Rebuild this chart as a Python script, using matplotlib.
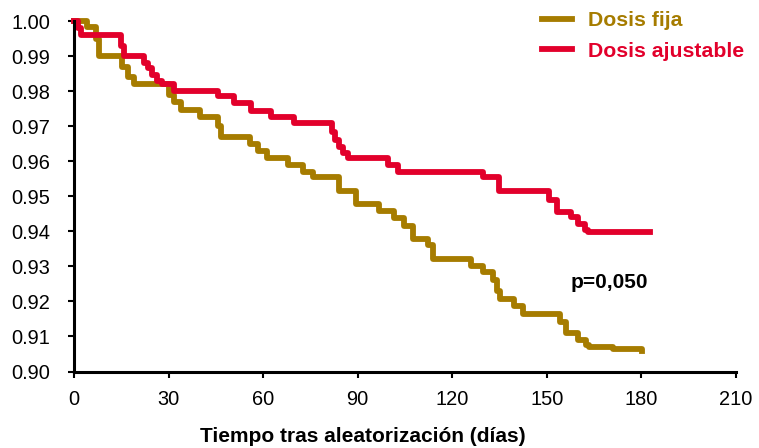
import matplotlib.pyplot as plt

# dias donde cambia la supervivencia (step post)
dias_fija = [0, 4.0, 7.0, 8.0, 15.3, 17.0, 19.0, 30.1, 31.6, 34.1, 40.1, 45.6,
             46.6, 55.9, 58.4, 61.3, 67.9, 72.7, 75.8, 84.1, 89.5, 96.8, 101.5,
             104.7, 107.6, 112.4, 113.9, 125.9, 129.8, 133.0, 134.3, 135.0,
             139.7, 142.5, 154.2, 156.2, 160.0, 162.5, 163.5, 171.1, 180.1]
surv_fija = [1.000, 0.9983, 0.995, 0.990, 0.987, 0.984, 0.982, 0.979, 0.977,
             0.9746, 0.9726, 0.970, 0.967, 0.965, 0.963, 0.961, 0.959, 0.957,
             0.9554, 0.9514, 0.9477, 0.9457, 0.9437, 0.9414, 0.9377, 0.936,
             0.932, 0.930, 0.9283, 0.926, 0.923, 0.9206, 0.9186, 0.9163, 0.914,
             0.911, 0.909, 0.9077, 0.907, 0.9063, 0.9058]

dias_ajust = [0, 1.3, 2.3, 14.9, 15.8, 22.3, 23.5, 24.8, 26.4, 28.0, 31.8, 45.6,
              50.7, 56.2, 62.5, 69.8, 81.9, 82.9, 84.1, 85.4, 87.0, 99.6, 102.8,
              129.8, 134.8, 150.7, 153.3, 157.7, 160.0, 162.2, 163.2, 182.8]
surv_ajust = [1.000, 0.998, 0.996, 0.993, 0.990, 0.988, 0.9866, 0.9846, 0.983,
              0.982, 0.980, 0.9786, 0.9766, 0.9743, 0.9726, 0.971, 0.9683,
              0.966, 0.964, 0.9623, 0.961, 0.959, 0.957, 0.9554, 0.9514, 0.949,
              0.9454, 0.944, 0.942, 0.9405, 0.9397, 0.9399]

xticks = [0, 30, 60, 90, 120, 150, 180, 210]
yticks = [0.90, 0.91, 0.92, 0.93, 0.94, 0.95, 0.96, 0.97, 0.98, 0.99, 1.00]

gold = '#A67C00'
red = '#E2002B'

plt.rcParams['font.family'] = ['Liberation Sans', 'DejaVu Sans']

W, H = 759, 448
fig = plt.figure(figsize=(W / 100, H / 100), dpi=100)
# eje: x 74..736 px, y 21..371.5 px
ax = fig.add_axes([74 / W, 1 - 371.5 / H, 662 / W, 350.5 / H])

ax.step(dias_fija, surv_fija, where='post', color=gold, lw=4.2,
        label='Dosis fija', clip_on=False)
ax.step(dias_ajust, surv_ajust, where='post', color=red, lw=4.2,
        label='Dosis ajustable', clip_on=False)

ax.set_xlim(0, 210)
ax.set_ylim(0.90, 1.00)
ax.set_xticks(xticks)
ax.set_yticks(yticks)
ax.set_yticklabels(['%.2f' % v for v in yticks])

for s in ['top', 'right']:
    ax.spines[s].set_visible(False)
for s in ['left', 'bottom']:
    ax.spines[s].set_linewidth(2.2)
ax.tick_params(axis='both', direction='out', length=4, width=1.5,
               labelsize=14.4)
ax.tick_params(axis='y', pad=13)
ax.tick_params(axis='x', pad=9.5)

fig.text(200 / W, 1 - 442 / H, 'Tiempo tras aleatorización (días)',
         ha='left', va='baseline', fontsize=15, fontweight='bold')

ax.text(169.8, 0.9238, 'p=0,050', ha='center', va='baseline', fontsize=15,
        fontweight='bold')

leg = ax.legend(loc='upper left', bbox_to_anchor=(531 / W, 1 - 0.5 / H),
                bbox_transform=fig.transFigure, frameon=False, borderpad=0,
                handlelength=1.45, handletextpad=0.72, labelspacing=0.54,
                prop={'weight': 'bold', 'size': 15.3}, labelcolor='linecolor')
for h in leg.get_lines():
    h.set_linewidth(4.2)

fig.savefig('out.png', dpi=100)
